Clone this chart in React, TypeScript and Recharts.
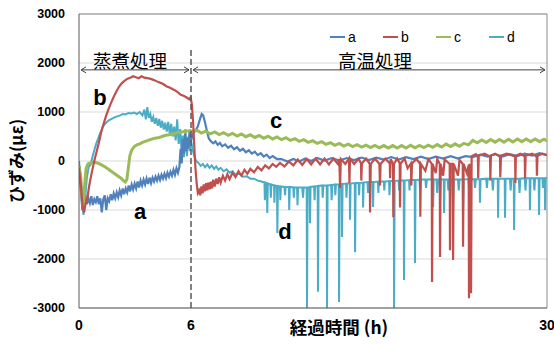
import React from 'react';
import { LineChart, Line, XAxis, YAxis, CartesianGrid, ReferenceLine, ReferenceDot } from 'recharts';

// [hours, strain µε]
const seriesA: [number, number][] = [
  [0, -100], [0.08, -500], [0.18, -1000], [0.26, -850], [0.34, -700], [0.42, -880], [0.5, -760], [0.58, -860],
  [0.66, -720], [0.74, -900], [0.82, -780], [0.9, -840], [0.98, -720], [1.06, -880], [1.14, -760], [1.22, -1050],
  [1.3, -780], [1.38, -700], [1.46, -1000], [1.54, -760], [1.62, -820], [1.7, -680], [1.78, -800], [1.86, -660],
  [1.94, -760], [2.02, -640], [2.1, -740], [2.18, -600], [2.26, -700], [2.34, -560], [2.42, -680], [2.5, -560],
  [2.58, -640], [2.66, -500], [2.74, -620], [2.82, -480], [2.9, -580], [2.98, -460], [3.06, -560], [3.14, -420],
  [3.22, -540], [3.3, -400], [3.38, -500], [3.46, -380], [3.54, -480], [3.62, -360], [3.7, -470], [3.78, -340],
  [3.86, -450], [3.94, -340], [4.02, -420], [4.1, -320], [4.18, -400], [4.26, -300], [4.34, -390], [4.42, -280],
  [4.5, -360], [4.58, -260], [4.66, -350], [4.74, -240], [4.82, -320], [4.9, -220], [4.98, -300], [5.06, -180],
  [5.14, -280], [5.22, -150], [5.3, -240], [5.38, -120], [5.44, 250], [5.5, -50], [5.56, 450], [5.62, 150],
  [5.68, 550], [5.74, 200], [5.8, 480], [5.86, 250], [5.92, 600], [6.0, 420], [6.15, 560], [6.3, 620],
  [6.45, 700], [6.6, 850], [6.72, 960], [6.82, 930], [6.95, 780], [7.08, 600], [7.2, 460], [7.35, 400],
  [7.5, 360], [7.65, 400], [7.8, 330], [7.95, 370], [8.1, 300], [8.3, 340], [8.5, 270], [8.7, 310],
  [8.9, 240], [9.1, 280], [9.3, 210], [9.5, 250], [9.7, 180], [9.9, 220], [10.1, 150], [10.3, 190],
  [10.5, 120], [10.7, 160], [10.9, 90], [11.1, 130], [11.3, 60], [11.5, 100], [11.8, 40], [12.1, 40],
  [12.5, -10], [12.9, 40], [13.3, -10], [13.7, 50], [14.1, 0], [14.5, 60], [15, 10], [15.5, 60],
  [16, 10], [16.5, 60], [17, 20], [17.5, 70], [18, 20], [18.5, 70], [19, 30], [19.5, 80],
  [20, 30], [20.5, 80], [21, 40], [21.5, 90], [22, 40], [22.5, 90], [23, 50], [23.5, 100],
  [24, 50], [24.5, 100], [25, 80], [25.5, 130], [26, 90], [26.5, 140], [27, 90], [27.5, 140],
  [28, 100], [28.5, 150], [29, 110], [29.5, 160], [30, 120],
];

const seriesB: [number, number][] = [
  [0, -150], [0.1, -500], [0.2, -950], [0.27, -1050], [0.35, -880], [0.45, -750], [0.55, -500], [0.65, -300],
  [0.75, -120], [0.85, 50], [0.95, 200], [1.05, 350], [1.15, 520], [1.25, 680], [1.35, 800], [1.45, 920],
  [1.55, 1030], [1.7, 1170], [1.85, 1300], [2.0, 1420], [2.15, 1520], [2.3, 1590], [2.45, 1640], [2.6, 1680],
  [2.75, 1700], [2.9, 1730], [3.05, 1710], [3.2, 1690], [3.35, 1730], [3.5, 1700], [3.65, 1690], [3.8, 1680],
  [3.95, 1660], [4.1, 1640], [4.25, 1610], [4.4, 1590], [4.55, 1560], [4.7, 1520], [4.85, 1500], [5.0, 1470],
  [5.15, 1440], [5.3, 1400], [5.45, 1350], [5.6, 1330], [5.75, 1300], [5.9, 1260], [5.98, 1300], [6.06, 1150],
  [6.14, 800], [6.22, 300], [6.3, -150], [6.38, -450], [6.46, -650], [6.54, -600], [6.62, -700], [6.7, -520],
  [6.78, -660], [6.86, -480], [6.94, -620], [7.02, -450], [7.1, -600], [7.18, -440], [7.26, -580], [7.34, -420],
  [7.42, -560], [7.5, -380], [7.6, -520], [7.7, -360], [7.8, -470], [7.9, -330], [8.0, -440], [8.15, -300],
  [8.3, -400], [8.45, -270], [8.6, -370], [8.8, -240], [9.0, -330], [9.2, -210], [9.4, -300], [9.6, -180],
  [9.8, -260], [10.0, -160], [10.25, -230], [10.5, -120], [10.75, -190], [11.0, -90], [11.25, -150], [11.5, -60],
  [11.75, -120], [12.0, -40], [12.3, -110], [12.6, -10], [12.9, -90], [13.2, 30], [13.5, -80], [13.8, 40],
  [14.1, -70], [14.4, 50], [14.7, -70], [15.0, 50], [15.3, -70], [15.6, 50], [15.9, -60], [16.0, 40],
  [16.05, -550], [16.1, 40], [16.4, -60], [16.65, 50], [16.68, -450], [16.72, 50], [17.0, -60], [17.3, 50],
  [17.46, -50], [17.48, -400], [17.52, -50], [17.8, 50], [18.05, -60], [18.07, -1050], [18.12, -60], [18.4, 50],
  [18.7, -60], [18.74, -500], [18.78, -60], [19.1, 50], [19.4, -50], [19.42, -350], [19.46, 40], [19.62, -60],
  [19.64, -1150], [19.68, -60], [19.9, 50], [20.07, -50], [20.09, -950], [20.13, -50], [20.4, 50], [20.6, -150],
  [20.83, -50], [20.85, -500], [20.9, -50], [21.2, 40], [21.44, -60], [21.46, -1140], [21.5, -60], [21.8, -200],
  [22.0, 40], [22.23, -60], [22.25, -2470], [22.29, -60], [22.5, -250], [22.6, 40], [22.77, -60], [22.79, -1960],
  [22.83, -60], [23.0, -300], [23.1, 30], [23.44, -60], [23.46, -1820], [23.5, -60], [23.65, -60], [23.67, -2020],
  [23.71, -60], [24.0, -300], [24.1, 20], [24.32, -60], [24.34, -1750], [24.38, -60], [24.6, -250], [24.72, -80],
  [24.74, -2800], [24.78, -80], [24.86, -80], [24.88, -2700], [24.92, 100], [25.2, 140], [25.34, 90], [25.36, -350],
  [25.4, 110], [25.8, 150], [26.16, 90], [26.18, -400], [26.22, 110], [26.5, 150], [26.83, 90], [26.85, -330],
  [26.9, 110], [27.3, 150], [27.85, 90], [27.87, -450], [27.9, 110], [28.2, 150], [28.5, 90], [28.52, -350],
  [28.56, 110], [29.0, 150], [29.3, 90], [29.32, -300], [29.36, 110], [29.7, 150], [30, 120],
];

const seriesC: [number, number][] = [
  [0, -100], [0.1, -350], [0.18, -850], [0.24, -950], [0.3, -500], [0.38, -150], [0.48, -60], [0.6, -40],
  [0.75, -20], [0.9, -30], [1.05, -50], [1.2, -80], [1.35, -110], [1.5, -150], [1.65, -190], [1.8, -230],
  [1.95, -270], [2.1, -310], [2.25, -350], [2.38, -400], [2.48, -430], [2.56, -380], [2.64, -150], [2.72, 100],
  [2.82, 220], [2.95, 290], [3.1, 330], [3.25, 350], [3.4, 380], [3.55, 400], [3.7, 420], [3.85, 440],
  [4.0, 460], [4.15, 470], [4.3, 480], [4.45, 500], [4.6, 520], [4.75, 530], [4.9, 540], [5.05, 550],
  [5.2, 570], [5.35, 580], [5.5, 590], [5.65, 600], [5.8, 610], [5.95, 620], [6.1, 600], [6.4, 630],
  [6.7, 570], [7.0, 610], [7.3, 555], [7.6, 595], [7.9, 540], [8.2, 580], [8.5, 525], [8.8, 565],
  [9.1, 510], [9.4, 550], [9.7, 495], [10.0, 535], [10.3, 480], [10.6, 520], [10.9, 465], [11.2, 505],
  [11.5, 450], [11.8, 490], [12.1, 435], [12.4, 475], [12.7, 420], [13.0, 455], [13.3, 400], [13.6, 435],
  [13.9, 380], [14.2, 415], [14.5, 360], [14.8, 395], [15.1, 340], [15.4, 375], [15.7, 320], [16.0, 360],
  [16.3, 305], [16.6, 345], [16.9, 295], [17.2, 335], [17.5, 285], [17.8, 325], [18.1, 275], [18.4, 320],
  [18.7, 270], [19.0, 315], [19.3, 265], [19.6, 315], [19.9, 265], [20.2, 315], [20.5, 265], [20.8, 320],
  [21.1, 270], [21.4, 320], [21.7, 275], [22.0, 325], [22.3, 280], [22.6, 335], [22.9, 285], [23.2, 345],
  [23.5, 295], [23.8, 350], [24.1, 300], [24.4, 360], [24.7, 330], [25.0, 420], [25.3, 370], [25.6, 430],
  [25.9, 380], [26.2, 440], [26.5, 385], [26.8, 440], [27.1, 385], [27.4, 445], [27.7, 390], [28.0, 450],
  [28.3, 395], [28.6, 450], [28.9, 395], [29.2, 450], [29.5, 395], [29.8, 445], [30, 410],
];

const seriesD: [number, number][] = [
  [0, 0], [0.08, -300], [0.16, -800], [0.24, -1100], [0.32, -800], [0.42, -350], [0.52, -120], [0.62, -80],
  [0.72, 80], [0.82, 220], [0.92, 350], [1.02, 450], [1.12, 560], [1.22, 640], [1.32, 720], [1.45, 780],
  [1.6, 830], [1.75, 860], [1.9, 890], [2.05, 910], [2.2, 930], [2.35, 960], [2.5, 950], [2.65, 980],
  [2.8, 970], [2.95, 990], [3.1, 960], [3.25, 1000], [3.4, 930], [3.5, 1050], [3.58, 850], [3.66, 1100],
  [3.74, 880], [3.82, 960], [3.9, 800], [3.98, 900], [4.06, 760], [4.14, 880], [4.22, 720], [4.3, 860],
  [4.38, 680], [4.46, 820], [4.54, 640], [4.62, 780], [4.7, 600], [4.78, 800], [4.86, 560], [4.94, 760],
  [5.02, 500], [5.1, 700], [5.18, 420], [5.26, 850], [5.34, 350], [5.42, 650], [5.5, 150], [5.56, 520],
  [5.62, 80], [5.7, 650], [5.78, 100], [5.86, 500], [5.94, 200], [6.0, 420], [6.1, 250], [6.2, 120],
  [6.35, 0], [6.5, -40], [6.65, -100], [6.8, -60], [6.95, -130], [7.1, -70], [7.25, -140], [7.4, -90],
  [7.55, -160], [7.7, -110], [7.85, -180], [8.0, -140], [8.2, -210], [8.4, -170], [8.6, -240], [8.8, -210],
  [9.0, -280], [9.25, -260], [9.5, -320], [9.75, -310], [10.0, -360], [10.25, -360], [10.5, -400], [10.75, -420],
  [10.95, -440], [10.98, -800], [11.02, -440], [11.12, -460], [11.14, -1060], [11.18, -460], [11.35, -480], [11.38, -750],
  [11.42, -480], [11.6, -500], [11.62, -850], [11.66, -500], [11.8, -510], [11.82, -1470], [11.86, -510], [12.0, -520],
  [12.02, -800], [12.06, -520], [12.3, -530], [12.34, -700], [12.38, -530], [12.6, -530], [12.62, -1000], [12.66, -530],
  [12.9, -540], [12.93, -750], [12.97, -540], [13.15, -540], [13.18, -900], [13.22, -540], [13.5, -540], [13.55, -750],
  [13.6, -540], [13.8, -540], [13.82, -3000], [13.86, -540], [14.0, -530], [14.02, -1270], [14.06, -530], [14.3, -520],
  [14.33, -800], [14.37, -520], [14.54, -510], [14.56, -2670], [14.6, -510], [14.85, -500], [14.88, -750], [14.92, -500],
  [15.15, -500], [15.17, -3000], [15.21, -500], [15.45, -490], [15.48, -800], [15.52, -490], [15.7, -480], [15.73, -700],
  [15.77, -480], [15.96, -480], [15.98, -2880], [16.02, -480], [16.16, -470], [16.18, -1550], [16.22, -470], [16.45, -460],
  [16.48, -750], [16.52, -460], [16.7, -460], [16.72, -1200], [16.76, -460], [17.04, -450], [17.06, -1860], [17.1, -450],
  [17.3, -450], [17.33, -700], [17.37, -450], [17.58, -440], [17.6, -950], [17.64, -440], [17.9, -430], [17.93, -650],
  [17.97, -430], [18.25, -430], [18.27, -940], [18.31, -430], [18.6, -420], [18.63, -650], [18.67, -420], [19.0, -420],
  [19.03, -600], [19.07, -420], [19.35, -410], [19.38, -700], [19.42, -410], [19.67, -410], [19.69, -3000], [19.73, -410],
  [20.0, -400], [20.03, -600], [20.07, -400], [20.34, -400], [20.36, -2430], [20.4, -400], [20.7, -390], [20.73, -600],
  [20.77, -390], [21.08, -390], [21.1, -2080], [21.14, -390], [21.4, -380], [21.45, -600], [21.5, -380], [21.8, -380],
  [21.85, -550], [21.9, -380], [22.3, -380], [22.32, -940], [22.36, -380], [22.55, -380], [22.6, -650], [22.65, -380],
  [22.77, -380], [22.79, -800], [22.83, -380], [23.04, -380], [23.06, -1060], [23.1, -380], [23.3, -380], [23.35, -600],
  [23.4, -380], [23.44, -380], [23.46, -750], [23.5, -380], [23.65, -380], [23.67, -850], [23.71, -380], [24.0, -380],
  [24.05, -600], [24.1, -380], [24.32, -380], [24.34, -1000], [24.38, -380], [24.7, -370], [24.75, -600], [24.8, -370],
  [25.1, -370], [25.15, -550], [25.2, -370], [25.46, -370], [25.48, -850], [25.52, -370], [25.9, -360], [25.95, -550],
  [26.0, -360], [26.3, -360], [26.35, -600], [26.4, -360], [26.68, -360], [26.7, -1160], [26.74, -360], [27.15, -360],
  [27.17, -1160], [27.21, -360], [27.5, -360], [27.55, -600], [27.6, -360], [27.76, -360], [27.78, -1410], [27.82, -360],
  [28.1, -360], [28.15, -650], [28.2, -360], [28.5, -350], [28.55, -600], [28.6, -350], [28.83, -350], [28.85, -1000],
  [28.89, -350], [29.1, -350], [29.15, -600], [29.2, -350], [29.44, -350], [29.46, -1100], [29.5, -350], [29.7, -350],
  [29.72, -550], [29.76, -350], [29.85, -350], [29.87, -1000], [29.91, -350], [30, -340],
];

const SERIES_NAMES = ['a', 'b', 'c', 'd'];
const SERIES_COLORS = ['#4F81BD', '#C0504D', '#9BBB59', '#4BACC6'];
const SERIES_WIDTHS = [2.2, 2.2, 3, 2];
const SERIES_DATA = [seriesA, seriesB, seriesC, seriesD];
const DRAW_ORDER = [3, 0, 2, 1]; // d under a, b on top

const Y_TICKS = [-3000, -2000, -1000, 0, 1000, 2000, 3000];
const X_TICK_HOURS = [0, 6, 30];

const PHASES = [
  { label: '蒸煮処理', from: 0, to: 6, labelAt: 2.73 },
  { label: '高温処理', from: 6, to: 30, labelAt: 18.4 },
];
const PHASE_ARROW_Y = 1860;
const PHASE_LABEL_Y = 2060;
const DIVIDER_TOP = 2300;

// curve labels [name, hours, strain]
const CURVE_LABELS: [string, number, number][] = [
  ['b', 1.12, 1290],
  ['c', 11.73, 820],
  ['a', 3.27, -1040],
  ['d', 12.34, -1430],
];

// the first 6 h are drawn wider than the rest of the axis
const U6 = 7.18;
const toU = (h: number) => (h <= 6 ? (h * U6) / 6 : Math.min(30, U6 + ((h - 6) * (30 - U6)) / 24));
const fromU = (u: number) => (u <= U6 ? (u * 6) / U6 : 6 + ((u - U6) * 24) / (30 - U6));

const LATIN = '"Liberation Sans", Arial, sans-serif';
const JP = '"Noto Sans CJK JP", sans-serif';

const PhaseArrow = (p: any) => {
  const a = p.x1 + 2;
  const b = p.x2 - 2;
  const y = p.y1;
  return (
    <g stroke="#404040" strokeWidth={1} fill="none">
      <line x1={a} y1={y} x2={b} y2={y} />
      <path d={`M${a + 5},${y - 3} L${a},${y} L${a + 5},${y + 3}`} />
      <path d={`M${b - 5},${y - 3} L${b},${y} L${b - 5},${y + 3}`} />
    </g>
  );
};

export default function App() {
  return (
    <div style={{ position: 'absolute', left: 0, top: 0, width: 554, height: 344, background: '#fff' }}>
      <LineChart width={554} height={344} margin={{ top: 14, right: 7, bottom: 0, left: 0 }} style={{ fontFamily: LATIN }}>
        <CartesianGrid vertical={false} stroke="#D9D9D9" />
        <XAxis
          type="number"
          dataKey="x"
          domain={[0, 30]}
          ticks={X_TICK_HOURS.map(toU)}
          tickFormatter={(u: number) => String(Math.round(fromU(u)))}
          height={36}
          tickSize={0}
          tickMargin={12}
          axisLine={{ stroke: '#595959' }}
          tick={{ fontSize: 14, fontWeight: 700, fill: '#000' }}
          allowDataOverflow
        />
        <YAxis
          type="number"
          domain={[-3000, 3000]}
          ticks={Y_TICKS}
          width={79}
          tickSize={0}
          tickMargin={14}
          axisLine={{ stroke: '#595959' }}
          tick={{ fontSize: 12.5, fontWeight: 700, fill: '#000' }}
          allowDataOverflow
        />
        <ReferenceLine y={3000} stroke="#8C8C8C" />
        <ReferenceLine x={30} stroke="#8C8C8C" />
        {DRAW_ORDER.map((i) => (
          <Line
            key={SERIES_NAMES[i]}
            data={SERIES_DATA[i].map(([h, v]) => ({ x: toU(h), v }))}
            dataKey="v"
            name={SERIES_NAMES[i]}
            type="linear"
            stroke={SERIES_COLORS[i]}
            strokeWidth={SERIES_WIDTHS[i]}
            dot={false}
            activeDot={false}
            isAnimationActive={false}
          />
        ))}
        <ReferenceLine
          segment={[{ x: toU(6), y: -3000 }, { x: toU(6), y: DIVIDER_TOP }]}
          stroke="#595959"
          strokeWidth={1.5}
          strokeDasharray="6 3"
        />
        {PHASES.map((ph) => (
          <ReferenceLine
            key={ph.label}
            segment={[{ x: toU(ph.from), y: PHASE_ARROW_Y }, { x: toU(ph.to), y: PHASE_ARROW_Y }]}
            ifOverflow="visible"
            shape={PhaseArrow}
          />
        ))}
        {PHASES.map((ph) => (
          <ReferenceDot
            key={'l' + ph.label}
            x={toU(ph.labelAt)}
            y={PHASE_LABEL_Y}
            r={0}
            shape={(p: any) => (
              <text x={p.cx} y={p.cy} textAnchor="middle" dominantBaseline="central" fontSize={18.5} fontFamily={JP} fill="#000">
                {ph.label}
              </text>
            )}
          />
        ))}
        {CURVE_LABELS.map(([name, h, v]) => (
          <ReferenceDot
            key={'c' + name}
            x={toU(h)}
            y={v}
            r={0}
            shape={(p: any) => (
              <text x={p.cx} y={p.cy} textAnchor="middle" dominantBaseline="central" fontSize={22} fontWeight={700} fontFamily={LATIN} fill="#000">
                {name}
              </text>
            )}
          />
        ))}
      </LineChart>
      <svg width={554} height={344} style={{ position: 'absolute', left: 0, top: 0, pointerEvents: 'none' }}>
        <text
          x={15}
          y={161}
          transform="rotate(-90 15 161)"
          textAnchor="middle"
          dominantBaseline="central"
          fontSize={17}
          fontWeight={700}
          fontFamily={JP}
          fill="#000"
        >
          ひずみ(με)
        </text>
        <text x={339} y={326} textAnchor="middle" dominantBaseline="central" fontSize={17.5} fontWeight={700} fontFamily={JP} fill="#000">
          経過時間 (h)
        </text>
        {SERIES_NAMES.map((n, i) => {
          const x0 = 330 + i * 53;
          return (
            <g key={n}>
              <line x1={x0} y1={37} x2={x0 + 15} y2={37} stroke={SERIES_COLORS[i]} strokeWidth={2} />
              <text x={x0 + 18} y={37} dominantBaseline="central" fontSize={14} fontFamily={LATIN} fill="#000">
                {n}
              </text>
            </g>
          );
        })}
      </svg>
    </div>
  );
}
